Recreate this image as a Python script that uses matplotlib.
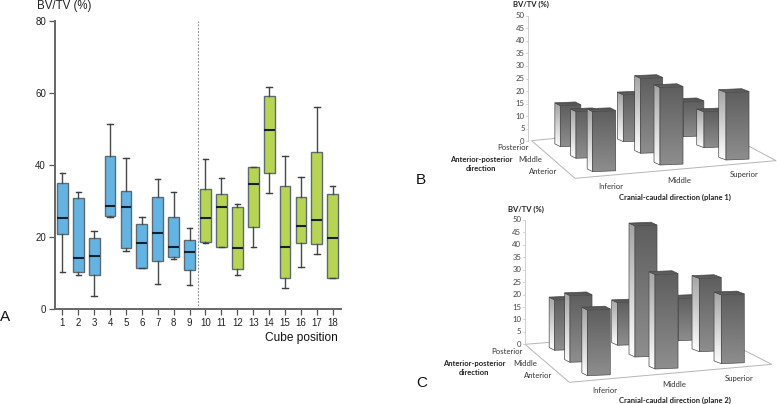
import numpy as np
import matplotlib
matplotlib.use("Agg")
import matplotlib.pyplot as plt
from matplotlib.patches import Polygon

# ---- panel A data
positions = list(range(1, 19))
whisker_low = [10.3, 9.4, 3.4, 25.6, 16.1, 11.2, 7.0, 13.9, 6.6, 18.2, 17.1, 9.5, 17.1, 32.3, 5.7, 11.5, 15.1, 8.5]
q1 = [20.8, 10.1, 9.3, 25.7, 16.9, 11.4, 13.2, 14.5, 10.7, 18.7, 17.3, 11.1, 22.8, 37.7, 8.5, 18.3, 18.0, 8.6]
median = [25.2, 14.1, 14.6, 28.7, 28.4, 18.4, 21.0, 17.2, 15.9, 25.2, 28.3, 17.0, 34.6, 49.8, 17.2, 23.1, 24.6, 19.8]
q3 = [34.9, 30.7, 19.6, 42.5, 32.7, 23.7, 31.2, 25.4, 19.2, 33.2, 31.8, 28.4, 39.4, 59.1, 34.1, 31.1, 43.7, 31.9]
whisker_high = [37.7, 32.6, 21.5, 51.3, 41.9, 25.6, 36.1, 32.6, 22.4, 41.8, 36.3, 29.2, 39.5, 61.8, 42.5, 36.6, 56.1, 34.1]
y_ticks = [0, 20, 40, 60, 80]

# ---- panels B and C data (rows: posterior, middle, anterior; cols: inferior, middle, superior)
row_names = ["Posterior", "Middle", "Anterior"]
col_names = ["Inferior", "Middle", "Superior"]
plane1 = [[15.8, 18.0, 13.5], [16.4, 26.3, 12.6], [19.4, 25.0, 21.8]]
plane2 = [[19.4, 16.4, 16.3], [23.4, 46.0, 25.7], [21.2, 30.5, 22.2]]
axis3d_ticks = list(range(0, 55, 5))

W, H = 777, 404
BLUE, GREEN = "#63B4E4", "#B8D455"
fig = plt.figure(figsize=(W / 100, H / 100), dpi=100)
plt.rcParams["font.family"] = ["Liberation Sans", "DejaVu Sans"]

# ---- panel A
y0, y80 = 308.7, 21.3
ax = fig.add_axes([55 / W, 1 - y0 / H, (340.7 - 55) / W, (y0 - y80) / H])
stats = [dict(med=m, q1=a, q3=b, whislo=l, whishi=h, fliers=[], label=str(p))
         for p, l, a, m, b, h in zip(positions, whisker_low, q1, median, q3, whisker_high)]
art = ax.bxp(stats, positions=positions, widths=0.68, patch_artist=True, capwidths=0.34,
             boxprops=dict(edgecolor="#5d6b6f", linewidth=1.0),
             medianprops=dict(color="#10202c", linewidth=1.5, solid_capstyle="butt"),
             whiskerprops=dict(color="#45494c", linewidth=1.0),
             capprops=dict(color="#3c3f42", linewidth=1.0), zorder=3)
for p, box in zip(positions, art["boxes"]):
    box.set_facecolor(BLUE if p <= 9 else GREEN)
ax.set_xlim(0.54, 18.5)
ax.set_ylim(0, 80)
ax.set_yticks(y_ticks)
ax.set_xticks(positions)
ax.set_xticklabels([str(p) for p in positions])
ax.axvline(9.5, color="#8a8a8a", lw=0.8, ls=(0, (1.5, 1.5)), zorder=1)
for s in ("top", "right"):
    ax.spines[s].set_visible(False)
for s in ("left", "bottom"):
    ax.spines[s].set_color("#666666")
    ax.spines[s].set_linewidth(1.4)
ax.tick_params(axis="both", color="#555555", width=0.9, length=4, labelsize=7, labelcolor="#222222", pad=2.5)

# ---- overlay in pixel coordinates for panels B, C and free text
ov = fig.add_axes([0, 0, 1, 1], facecolor="none")
ov.set_xlim(0, W)
ov.set_ylim(H, 0)
ov.axis("off")

ov.text(37, 5.5, "BV/TV (%)", fontsize=8.3, color="#222222", va="center", ha="left")
ov.text(338, 337.5, "Cube position", fontsize=8.6, color="#111111", va="center", ha="right")
ov.text(0, 317, "A", fontsize=11, color="#111111", va="center", ha="left")
ov.text(416, 180, "B", fontsize=11, color="#111111", va="center", ha="left")
ov.text(416, 383, "C", fontsize=11, color="#111111", va="center", ha="left")

vgrad = np.linspace(0, 1, 64).reshape(-1, 1)


def gradient_poly(pts, top, bottom):
    pts = np.array(pts, float)
    c0, c1 = np.array(matplotlib.colors.to_rgb(top)), np.array(matplotlib.colors.to_rgb(bottom))
    img = (c0 + (c1 - c0) * vgrad[..., None]).reshape(64, 1, 3)
    x0, x1, yt, yb = pts[:, 0].min(), pts[:, 0].max(), pts[:, 1].min(), pts[:, 1].max()
    im = ov.imshow(img, extent=(x0, x1, yb, yt), aspect="auto", interpolation="bilinear", zorder=4)
    p = Polygon(pts, closed=True, transform=ov.transData, facecolor="none", edgecolor="none")
    ov.add_patch(p)
    im.set_clip_path(p)
    ov.add_patch(Polygon(pts, closed=True, fill=False, edgecolor="#4a4a4a", linewidth=0.5, zorder=4))


def bar3d(fx, fy, depth, width, scale, value):
    """fx, fy: front-left base corner in pixels; value drawn with per-row pixel scale."""
    h = value * scale
    rise = 2.8
    slope = width * 0.04
    gradient_poly([(fx - depth, fy - rise - h), (fx, fy - h), (fx, fy), (fx - depth, fy - rise)], "#a4a4a4", "#ffffff")
    gradient_poly([(fx, fy - h), (fx + width, fy - h - slope), (fx + width, fy - slope), (fx, fy)], "#5e5e5e", "#8e8e8e")
    gradient_poly([(fx - depth, fy - rise - h), (fx, fy - h), (fx + width, fy - h - slope),
                   (fx + width - depth, fy - h - slope - rise)], "#4c4c4c", "#666666")


def panel(ox, oy, values, geo):
    z = lambda x, y: (ox + x / 3, oy + y / 3)
    # floor outline
    for seg in geo["floor"]:
        ov.plot(*zip(*[z(*p) for p in seg]), color="#b5b5b5", lw=0.7, zorder=2)
    # vertical axis
    ax0, ay0, ay50 = geo["axis"]
    ov.plot(*zip(z(ax0, ay0), z(ax0, ay50)), color="#cfcfcf", lw=0.7, zorder=2)
    for t in axis3d_ticks:
        yy = ay0 + (ay50 - ay0) * t / 50
        ov.plot(*zip(z(ax0 - 7, yy), z(ax0, yy)), color="#cfcfcf", lw=0.6, zorder=2)
        ov.text(*z(ax0 - 11, yy), str(t), ha="right", va="center", fontsize=5.6, color="#444444", family="Lato")
    # bars back to front
    scales = (2.6, 2.85, 3.1)
    widths = (20.5, 22, 23)
    col_depths = (5.5, 6.0, 7.3)
    for r in range(3):
        for c in range(3):
            fx, fy = z(*geo["base"][r][c])
            bar3d(fx, fy, col_depths[c], widths[r], scales[r], values[r][c])
    kw = dict(fontsize=5.6, color="#333333", va="center", family="Lato")
    for name, (x, y) in zip(row_names, geo["rows"]):
        ov.text(*z(x, y), name, ha="right", **kw)
    for name, (x, y) in zip(col_names, geo["cols"]):
        ov.text(*z(x, y), name, ha="center", **kw)
    bold = dict(fontsize=5.5, color="#222222", va="center", ha="center", family="Lato", fontweight="bold")
    ov.text(*z(*geo["ap"][0]), "Anterior-posterior", **bold)
    ov.text(*z(*geo["ap"][1]), "direction", **bold)
    ov.text(*z(*geo["cc"]), geo["cc_text"], **bold)
    ov.text(*z(*geo["bv"]), "BV/TV (%)", **{**bold, "ha": "left"})


panel(440, 0, plane1, dict(
    floor=[[(345, 415), (275, 422), (405, 535), (1008, 482), (920, 435)]],
    axis=(265, 424, 47),
    base=[[(361, 440), (550, 425), (730, 410)],
          [(408, 475), (602, 460), (792, 443)],
          [(458, 515), (660, 495), (858, 480)]],
    rows=[(265, 441), (306, 477), (352, 515)],
    cols=[(511, 560), (717, 541), (912, 525)],
    ap=[(123, 478), (123, 505)], cc=(706, 592),
    cc_text="Cranial-caudal direction (plane 1)", bv=(218, 12)))

panel(440, 205, plane2, dict(
    floor=[[(330, 412), (255, 418), (388, 532), (995, 478), (905, 432)]],
    axis=(255, 418, 45),
    base=[[(344, 436), (533, 421), (715, 407)],
          [(390, 472), (585, 456), (778, 440)],
          [(442, 512), (645, 492), (844, 476)]],
    rows=[(247, 438), (290, 474), (336, 512)],
    cols=[(495, 556), (702, 538), (898, 522)],
    ap=[(103, 475), (103, 503)], cc=(704, 585),
    cc_text="Cranial-caudal direction (plane 2)", bv=(203, 12)))

ov.set_xlim(0, W)
ov.set_ylim(H, 0)
fig.savefig("out.png", dpi=100)
